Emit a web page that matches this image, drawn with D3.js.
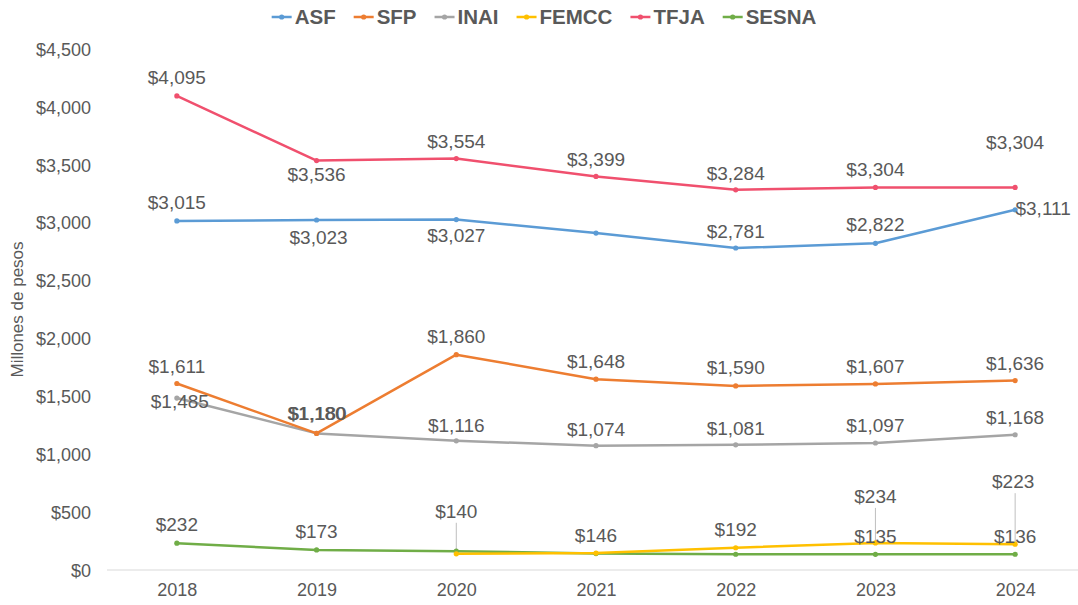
<!DOCTYPE html>
<html>
<head>
<meta charset="utf-8">
<script src="https://cdn.jsdelivr.net/npm/d3@7"></script>
<style>
  body { margin: 0; background: #fff; }
  svg text { font-family: "Liberation Sans", Arial, sans-serif; fill: #595959; }
</style>
</head>
<body>
<svg class="chart" width="1078" height="605"></svg>
<script>
/**********************
 Data
**********************/
var years = ['2018', '2019', '2020', '2021', '2022', '2023', '2024'];
var yTicks = [0, 500, 1000, 1500, 2000, 2500, 3000, 3500, 4000, 4500];

var asf   = [3015, 3023, 3027, 2910, 2781, 2822, 3111];
var sfp   = [1611, 1180, 1860, 1648, 1590, 1607, 1636];
var inai  = [1485, 1180, 1116, 1074, 1081, 1097, 1168];
var femcc = [null, null, 140, 146, 192, 234, 223];
var tfja  = [4095, 3536, 3554, 3399, 3284, 3304, 3304];
var sesna = [232, 173, 163, 142, 136, 135, 136];

var seriesNames = ['ASF', 'SFP', 'INAI', 'FEMCC', 'TFJA', 'SESNA'];
var seriesValues = [asf, sfp, inai, femcc, tfja, sesna];
var seriesColors = ['#5b9bd5', '#ed7d31', '#a5a5a5', '#ffc000', '#f0506e', '#70ad47'];

// label placement per series/year: [dx, dy] from the point (null = no label)
var labelPos = {
  ASF:   [[0, -12], [2, 24], [0, 22], null, [0, -10], [0, -12], [28, 5]],
  SFP:   [[0, -10], [0, -13], [0, -12], [0, -11], [0, -12], [0, -11], [0, -11]],
  INAI:  [[3, 10], [1, -13], [0, -9], [0, -10], [0, -10], [0, -11], [0, -11]],
  FEMCC: [null, null, [0, -36], [0, -11], [0, -12], [0, -40], [-2, -56]],
  TFJA:  [[0, -12], [0, 20], [0, -11], [0, -10], [0, -10], [0, -11], [0, -38]],
  SESNA: [[0, -12], [0, -12], null, null, null, [0, -11], [0, -11]]
};
// leader lines: [series, year index]
var leaders = [['FEMCC', 2], ['FEMCC', 5], ['FEMCC', 6]];

/**********************
 Layout
**********************/
var svg = d3.select('svg.chart');
var plot = {l: 107, r: 1085, t: 49, b: 570};

var xScale = d3.scalePoint().domain(years).range([plot.l, plot.r]).padding(0.5);
var yScale = d3.scaleLinear().domain([0, 4500]).range([plot.b, plot.t]);
var fmt = function(v) { return '$' + d3.format(',')(v); };

// y axis ticks
var yAxis = d3.axisLeft(yScale).tickValues(yTicks).tickFormat(fmt).tickSize(0).tickPadding(0);
var yAxisG = svg.append('g')
    .attr('transform', 'translate(91,0)')
    .call(yAxis);
yAxisG.select('.domain').remove();
yAxisG.selectAll('text').style('font-size', '18px').attr('dy', '0.35em');

// x axis
var xAxis = d3.axisBottom(xScale).tickSize(0).tickPadding(13);
var xAxisG = svg.append('g')
    .attr('transform', 'translate(0,' + plot.b + ')')
    .call(xAxis);
xAxisG.select('.domain').attr('stroke', '#d9d9d9').attr('d', 'M' + plot.l + ',0H' + plot.r);
xAxisG.selectAll('text').style('font-size', '18px');

// y axis title
svg.append('text')
    .attr('transform', 'translate(23,' + ((plot.t + plot.b) / 2) + ') rotate(-90)')
    .attr('text-anchor', 'middle')
    .style('font-size', '17px')
    .text('Millones  de pesos');

/**********************
 Lines
**********************/
var line = d3.line()
    .defined(function(d) { return d.v !== null; })
    .x(function(d) { return xScale(d.year); })
    .y(function(d) { return yScale(d.v); });

var seriesData = seriesNames.map(function(name, i) {
  return {
    name: name,
    color: seriesColors[i],
    points: years.map(function(y, j) { return {year: y, v: seriesValues[i][j], j: j}; })
  };
});

// leader lines under the marks
leaders.forEach(function(l) {
  var s = seriesData[seriesNames.indexOf(l[0])];
  var p = s.points[l[1]];
  var off = labelPos[l[0]][l[1]];
  svg.append('line')
      .attr('x1', xScale(p.year)).attr('x2', xScale(p.year))
      .attr('y1', yScale(p.v) + off[1] + 5).attr('y2', yScale(p.v) - 2)
      .attr('stroke', '#bfbfbf').attr('stroke-width', 1);
});

var drawOrder = [5, 3, 2, 1, 0, 4];
drawOrder.forEach(function(i) {
  var s = seriesData[i];
  var g = svg.append('g').attr('class', 'series');
  g.append('path')
      .attr('d', line(s.points))
      .attr('fill', 'none')
      .attr('stroke', s.color)
      .attr('stroke-width', 2.5)
      .attr('stroke-linejoin', 'round');
  g.selectAll('circle')
      .data(s.points.filter(function(d) { return d.v !== null; }))
      .enter().append('circle')
      .attr('cx', function(d) { return xScale(d.year); })
      .attr('cy', function(d) { return yScale(d.v); })
      .attr('r', 2.6)
      .attr('fill', s.color);
});

// data labels
seriesData.forEach(function(s) {
  svg.append('g').selectAll('text')
      .data(s.points.filter(function(d) { return d.v !== null && labelPos[s.name][d.j]; }))
      .enter().append('text')
      .attr('x', function(d) { return xScale(d.year) + labelPos[s.name][d.j][0]; })
      .attr('y', function(d) { return yScale(d.v) + labelPos[s.name][d.j][1]; })
      .attr('text-anchor', 'middle')
      .style('font-size', '19px')
      .text(function(d) { return fmt(d.v); });
});

/**********************
 Legend
**********************/
var legend = svg.append('g');
var lx = 0;
seriesData.forEach(function(s) {
  var item = legend.append('g').attr('transform', 'translate(' + lx + ',0)');
  item.append('line')
      .attr('x1', 0).attr('x2', 20).attr('y1', 0).attr('y2', 0)
      .attr('stroke', s.color).attr('stroke-width', 2.5);
  item.append('circle').attr('cx', 10).attr('cy', 0).attr('r', 2.6).attr('fill', s.color);
  var t = item.append('text')
      .attr('x', 23).attr('y', 0).attr('dy', '0.35em')
      .style('font-size', '20.5px').style('font-weight', 'bold')
      .text(s.name);
  lx += 23 + t.node().getComputedTextLength() + 18;
});
lx -= 18;
legend.attr('transform', 'translate(' + (544 - lx / 2) + ',17)');
</script>
</body>
</html>
